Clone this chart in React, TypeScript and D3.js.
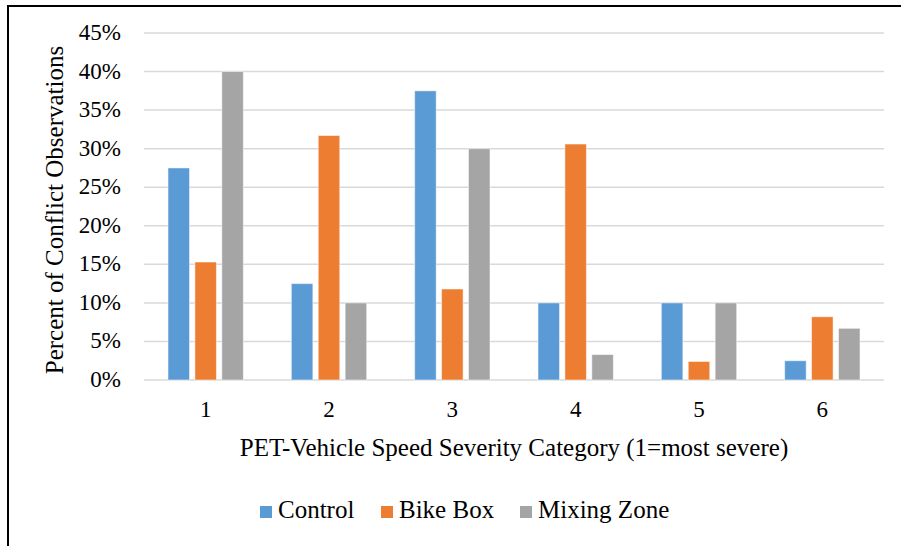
import React from 'react';
import * as d3 from 'd3';

const categories = ['1', '2', '3', '4', '5', '6'];
const seriesNames = ['Control', 'Bike Box', 'Mixing Zone'];
const control = [27.5, 12.5, 37.5, 10, 10, 2.5];
const bikeBox = [15.3, 31.7, 11.8, 30.6, 2.4, 8.2];
const mixingZone = [40, 10, 30, 3.3, 10, 6.7];
const yTicks = [0, 5, 10, 15, 20, 25, 30, 35, 40, 45];
const colors = ['#5B9BD5', '#ED7D31', '#A5A5A5'];

const W = 901;
const H = 546;
const font = 'Liberation Serif, serif';

const App = () => {
  const series = [control, bikeBox, mixingZone];
  const margin = { left: 144, right: 884, top: 33, bottom: 380 };

  const x = d3.scaleBand<string>()
    .domain(categories)
    .range([margin.left, margin.right])
    .paddingInner(0)
    .paddingOuter(0);

  // bars within a category
  const inner = d3.scaleBand<string>()
    .domain(seriesNames)
    .range([24, x.bandwidth() - 24])
    .paddingInner(0.2);

  const y = d3.scaleLinear().domain([0, 45]).range([margin.bottom, margin.top]);

  const legendX = [260, 381, 520];

  return (
    <svg
      width={W}
      height={H}
      style={{ position: 'absolute', left: 0, top: 0, background: '#fff', fontFamily: font }}
    >
      <rect x={8} y={6} width={1000} height={700} fill="#fff" stroke="#000" strokeWidth={2} />

      {/* grid lines */}
      {yTicks.map(t => (
        <line
          key={t}
          x1={margin.left}
          x2={margin.right}
          y1={y(t)}
          y2={y(t)}
          stroke="#D9D9D9"
          strokeWidth={1.5}
        />
      ))}

      {/* y tick labels */}
      {yTicks.map(t => (
        <text key={t} x={121} y={y(t) + 7} textAnchor="end" fontSize={23} fill="#000">
          {t}%
        </text>
      ))}

      {/* bars */}
      {series.map((vals, si) =>
        vals.map((v, ci) => (
          <rect
            key={`${si}-${ci}`}
            x={(x(categories[ci]) as number) + (inner(seriesNames[si]) as number)}
            y={y(v)}
            width={inner.bandwidth()}
            height={y(0) - y(v)}
            fill={colors[si]}
            stroke="#fff"
            strokeOpacity={0.5}
            strokeWidth={1}
          />
        ))
      )}

      {/* x tick labels */}
      {categories.map(c => (
        <text
          key={c}
          x={(x(c) as number) + x.bandwidth() / 2}
          y={417}
          textAnchor="middle"
          fontSize={23}
          fill="#000"
        >
          {c}
        </text>
      ))}

      {/* axis titles */}
      <text x={(margin.left + margin.right) / 2} y={456} textAnchor="middle" fontSize={25} fill="#000">
        PET-Vehicle Speed Severity Category (1=most severe)
      </text>
      <text
        transform={`translate(63, 210) rotate(-90)`}
        textAnchor="middle"
        fontSize={25}
        fill="#000"
      >
        Percent of Conflict Observations
      </text>

      {/* legend */}
      {seriesNames.map((name, i) => (
        <g key={name}>
          <rect x={legendX[i]} y={506} width={12} height={12} fill={colors[i]} />
          <text x={legendX[i] + 18} y={518} fontSize={25} fill="#000">
            {name}
          </text>
        </g>
      ))}
    </svg>
  );
};

export default App;
